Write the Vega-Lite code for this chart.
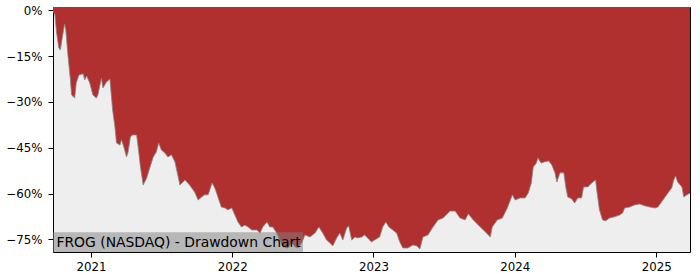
{
  "$schema": "https://vega.github.io/schema/vega-lite/v6.json",
  "autosize": "none",
  "padding": {"left": 53, "top": 7, "right": 10, "bottom": 28},
  "width": 637,
  "height": 245,
  "background": "white",
  "config": {
    "view": {"stroke": "black", "strokeWidth": 1, "fill": "#eeeeee"},
    "axis": {
      "domain": false, "grid": false, "ticks": true, "tickColor": "black", "tickSize": 5, "tickWidth": 1,
      "labelFont": "DejaVu Sans", "labelFontSize": 11.8, "labelColor": "black", "title": null
    },
    "axisX": {"labelPadding": 4},
    "axisY": {"labelPadding": 6}
  },
  "layer": [
    {
      "data": {"name": "dd", "values": [
        {"date": "2020-09-25", "dd": 0.0},
        {"date": "2020-09-30", "dd": -1.5},
        {"date": "2020-10-04", "dd": -7.1},
        {"date": "2020-10-10", "dd": -12.3},
        {"date": "2020-10-14", "dd": -13.0},
        {"date": "2020-10-18", "dd": -9.7},
        {"date": "2020-10-25", "dd": -4.5},
        {"date": "2020-10-28", "dd": -6.4},
        {"date": "2020-11-03", "dd": -15.3},
        {"date": "2020-11-09", "dd": -22.8},
        {"date": "2020-11-12", "dd": -27.7},
        {"date": "2020-11-20", "dd": -28.7},
        {"date": "2020-11-24", "dd": -23.8},
        {"date": "2020-12-01", "dd": -21.2},
        {"date": "2020-12-12", "dd": -20.8},
        {"date": "2020-12-16", "dd": -22.8},
        {"date": "2020-12-21", "dd": -21.5},
        {"date": "2020-12-29", "dd": -23.8},
        {"date": "2021-01-06", "dd": -27.7},
        {"date": "2021-01-15", "dd": -28.7},
        {"date": "2021-01-19", "dd": -27.7},
        {"date": "2021-01-28", "dd": -22.2},
        {"date": "2021-02-01", "dd": -25.4},
        {"date": "2021-02-10", "dd": -23.5},
        {"date": "2021-02-19", "dd": -22.5},
        {"date": "2021-02-26", "dd": -32.6},
        {"date": "2021-03-04", "dd": -38.2},
        {"date": "2021-03-08", "dd": -43.4},
        {"date": "2021-03-17", "dd": -44.1},
        {"date": "2021-03-21", "dd": -42.4},
        {"date": "2021-03-27", "dd": -44.7},
        {"date": "2021-04-03", "dd": -48.0},
        {"date": "2021-04-07", "dd": -46.4},
        {"date": "2021-04-13", "dd": -41.5},
        {"date": "2021-04-18", "dd": -40.8},
        {"date": "2021-04-29", "dd": -40.8},
        {"date": "2021-05-03", "dd": -44.7},
        {"date": "2021-05-09", "dd": -51.3},
        {"date": "2021-05-16", "dd": -57.2},
        {"date": "2021-05-25", "dd": -54.9},
        {"date": "2021-06-02", "dd": -51.6},
        {"date": "2021-06-11", "dd": -48.0},
        {"date": "2021-06-19", "dd": -46.4},
        {"date": "2021-06-25", "dd": -43.4},
        {"date": "2021-07-02", "dd": -45.7},
        {"date": "2021-07-11", "dd": -46.7},
        {"date": "2021-07-19", "dd": -48.0},
        {"date": "2021-07-28", "dd": -47.3},
        {"date": "2021-08-06", "dd": -49.6},
        {"date": "2021-08-19", "dd": -57.2},
        {"date": "2021-09-01", "dd": -55.5},
        {"date": "2021-09-13", "dd": -57.2},
        {"date": "2021-09-26", "dd": -59.5},
        {"date": "2021-10-05", "dd": -62.1},
        {"date": "2021-10-14", "dd": -61.1},
        {"date": "2021-10-22", "dd": -60.4},
        {"date": "2021-10-31", "dd": -60.4},
        {"date": "2021-11-04", "dd": -58.8},
        {"date": "2021-11-10", "dd": -56.5},
        {"date": "2021-11-17", "dd": -58.1},
        {"date": "2021-11-26", "dd": -61.4},
        {"date": "2021-12-04", "dd": -64.4},
        {"date": "2021-12-13", "dd": -64.7},
        {"date": "2021-12-21", "dd": -65.3},
        {"date": "2021-12-31", "dd": -64.7},
        {"date": "2022-01-08", "dd": -67.0},
        {"date": "2022-01-16", "dd": -69.3},
        {"date": "2022-01-25", "dd": -70.9},
        {"date": "2022-02-03", "dd": -70.3},
        {"date": "2022-02-11", "dd": -70.9},
        {"date": "2022-02-21", "dd": -71.9},
        {"date": "2022-03-06", "dd": -71.9},
        {"date": "2022-03-14", "dd": -72.9},
        {"date": "2022-03-21", "dd": -70.9},
        {"date": "2022-04-01", "dd": -69.3},
        {"date": "2022-04-08", "dd": -70.9},
        {"date": "2022-04-16", "dd": -70.9},
        {"date": "2022-04-26", "dd": -72.9},
        {"date": "2022-05-04", "dd": -75.2},
        {"date": "2022-05-12", "dd": -77.4},
        {"date": "2022-05-25", "dd": -77.8},
        {"date": "2022-06-04", "dd": -76.1},
        {"date": "2022-06-12", "dd": -77.4},
        {"date": "2022-06-20", "dd": -77.8},
        {"date": "2022-06-30", "dd": -76.1},
        {"date": "2022-07-08", "dd": -73.5},
        {"date": "2022-07-21", "dd": -74.2},
        {"date": "2022-08-03", "dd": -72.9},
        {"date": "2022-08-13", "dd": -70.9},
        {"date": "2022-08-23", "dd": -72.9},
        {"date": "2022-09-02", "dd": -75.2},
        {"date": "2022-09-10", "dd": -76.1},
        {"date": "2022-09-18", "dd": -77.1},
        {"date": "2022-09-28", "dd": -74.5},
        {"date": "2022-10-06", "dd": -72.9},
        {"date": "2022-10-14", "dd": -75.2},
        {"date": "2022-10-24", "dd": -71.2},
        {"date": "2022-10-29", "dd": -70.6},
        {"date": "2022-11-06", "dd": -75.2},
        {"date": "2022-11-14", "dd": -74.2},
        {"date": "2022-11-21", "dd": -74.5},
        {"date": "2022-12-02", "dd": -74.2},
        {"date": "2022-12-09", "dd": -73.5},
        {"date": "2022-12-17", "dd": -74.5},
        {"date": "2022-12-27", "dd": -75.8},
        {"date": "2023-01-04", "dd": -75.2},
        {"date": "2023-01-17", "dd": -74.2},
        {"date": "2023-01-25", "dd": -70.9},
        {"date": "2023-02-02", "dd": -69.3},
        {"date": "2023-02-10", "dd": -70.9},
        {"date": "2023-02-20", "dd": -71.9},
        {"date": "2023-03-02", "dd": -72.9},
        {"date": "2023-03-10", "dd": -75.8},
        {"date": "2023-03-18", "dd": -77.8},
        {"date": "2023-03-31", "dd": -77.8},
        {"date": "2023-04-13", "dd": -76.8},
        {"date": "2023-04-23", "dd": -77.1},
        {"date": "2023-05-01", "dd": -78.1},
        {"date": "2023-05-09", "dd": -74.2},
        {"date": "2023-05-22", "dd": -73.5},
        {"date": "2023-06-04", "dd": -70.9},
        {"date": "2023-06-17", "dd": -68.6},
        {"date": "2023-06-30", "dd": -68.0},
        {"date": "2023-07-18", "dd": -65.7},
        {"date": "2023-07-31", "dd": -65.7},
        {"date": "2023-08-13", "dd": -68.0},
        {"date": "2023-08-26", "dd": -68.6},
        {"date": "2023-09-03", "dd": -66.6},
        {"date": "2023-09-16", "dd": -68.6},
        {"date": "2023-10-04", "dd": -70.9},
        {"date": "2023-10-17", "dd": -72.5},
        {"date": "2023-10-30", "dd": -74.2},
        {"date": "2023-11-04", "dd": -70.9},
        {"date": "2023-11-17", "dd": -68.6},
        {"date": "2023-11-30", "dd": -68.0},
        {"date": "2023-12-13", "dd": -64.7},
        {"date": "2023-12-26", "dd": -60.4},
        {"date": "2024-01-02", "dd": -62.1},
        {"date": "2024-01-15", "dd": -61.4},
        {"date": "2024-01-28", "dd": -61.4},
        {"date": "2024-02-05", "dd": -59.8},
        {"date": "2024-02-13", "dd": -56.5},
        {"date": "2024-02-18", "dd": -51.3},
        {"date": "2024-02-26", "dd": -50.0},
        {"date": "2024-03-01", "dd": -48.3},
        {"date": "2024-03-09", "dd": -50.0},
        {"date": "2024-03-19", "dd": -49.6},
        {"date": "2024-03-29", "dd": -49.3},
        {"date": "2024-04-06", "dd": -50.6},
        {"date": "2024-04-14", "dd": -53.2},
        {"date": "2024-04-19", "dd": -56.2},
        {"date": "2024-04-27", "dd": -53.2},
        {"date": "2024-05-07", "dd": -53.2},
        {"date": "2024-05-12", "dd": -57.8},
        {"date": "2024-05-17", "dd": -61.1},
        {"date": "2024-05-27", "dd": -61.7},
        {"date": "2024-06-04", "dd": -63.1},
        {"date": "2024-06-12", "dd": -61.4},
        {"date": "2024-06-22", "dd": -61.4},
        {"date": "2024-06-27", "dd": -57.8},
        {"date": "2024-07-08", "dd": -57.8},
        {"date": "2024-07-18", "dd": -56.5},
        {"date": "2024-07-28", "dd": -55.5},
        {"date": "2024-07-31", "dd": -58.8},
        {"date": "2024-08-07", "dd": -65.3},
        {"date": "2024-08-15", "dd": -68.6},
        {"date": "2024-08-23", "dd": -68.9},
        {"date": "2024-09-02", "dd": -68.0},
        {"date": "2024-09-15", "dd": -67.6},
        {"date": "2024-09-28", "dd": -67.0},
        {"date": "2024-10-06", "dd": -66.3},
        {"date": "2024-10-11", "dd": -64.7},
        {"date": "2024-10-24", "dd": -64.4},
        {"date": "2024-11-06", "dd": -63.7},
        {"date": "2024-11-19", "dd": -63.4},
        {"date": "2024-12-02", "dd": -64.0},
        {"date": "2024-12-15", "dd": -64.4},
        {"date": "2024-12-28", "dd": -64.7},
        {"date": "2025-01-05", "dd": -64.4},
        {"date": "2025-01-18", "dd": -62.1},
        {"date": "2025-01-31", "dd": -59.8},
        {"date": "2025-02-10", "dd": -58.1},
        {"date": "2025-02-15", "dd": -55.5},
        {"date": "2025-02-20", "dd": -54.2},
        {"date": "2025-02-25", "dd": -56.2},
        {"date": "2025-03-08", "dd": -57.8},
        {"date": "2025-03-13", "dd": -61.1},
        {"date": "2025-03-21", "dd": -60.4},
        {"date": "2025-03-29", "dd": -59.8}
      ]},
      "layer": [
        {
          "mark": {"type": "area", "color": "#b03030", "clip": true, "interpolate": "linear"},
          "encoding": {
            "x": {
              "field": "date", "type": "temporal",
              "scale": {"type": "utc", "domain": [{"year": 2020, "month": 9, "date": 25, "utc": true}, {"year": 2025, "month": 3, "date": 29, "utc": true}]},
              "axis": {
                "values": [
                  {"year": 2021, "month": 1, "date": 1, "utc": true},
                  {"year": 2022, "month": 1, "date": 1, "utc": true},
                  {"year": 2023, "month": 1, "date": 1, "utc": true},
                  {"year": 2024, "month": 1, "date": 1, "utc": true},
                  {"year": 2025, "month": 1, "date": 1, "utc": true}
                ],
                "format": "%Y", "formatType": "utc"
              }
            },
            "y": {
              "field": "dd", "type": "quantitative",
              "scale": {"domain": [-79.1, 1.08], "nice": false, "zero": false},
              "axis": {
                "values": [0, -15, -30, -45, -60, -75],
                "labelExpr": "datum.value == 0 ? '0%' : '\u2212' + format(abs(datum.value), 'd') + '%'"
              }
            },
            "y2": {"datum": 1.08}
          }
        },
        {
          "mark": {"type": "line", "color": "#888888", "strokeWidth": 0.8, "clip": true},
          "encoding": {
            "x": {"field": "date", "type": "temporal"},
            "y": {"field": "dd", "type": "quantitative"}
          }
        }
      ]
    },
    {
      "data": {"values": [{"label": "FROG (NASDAQ) - Drawdown Chart"}]},
      "layer": [
        {
          "mark": {"type": "rect", "fill": "#808080", "opacity": 0.5},
          "encoding": {
            "x": {"datum": {"year": 2020, "month": 9, "date": 25, "utc": true}, "type": "temporal"},
            "x2": {"datum": {"year": 2022, "month": 7, "date": 3, "utc": true}},
            "y": {"datum": -79.1, "type": "quantitative"},
            "y2": {"datum": -72.64}
          }
        },
        {
          "mark": {"type": "text", "align": "left", "baseline": "alphabetic", "font": "DejaVu Sans", "fontSize": 13.9, "color": "black"},
          "encoding": {
            "text": {"field": "label", "type": "nominal"},
            "x": {"datum": {"year": 2020, "month": 10, "date": 4, "utc": true}, "type": "temporal"},
            "y": {"datum": -77.36, "type": "quantitative"}
          }
        }
      ]
    }
  ]
}
